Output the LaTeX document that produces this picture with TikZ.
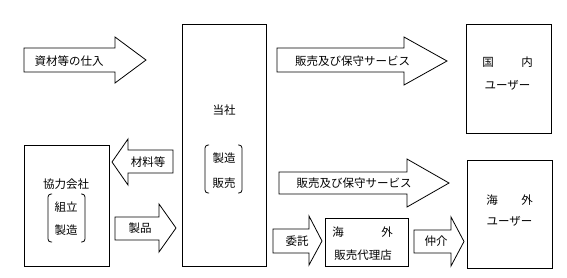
\documentclass[tikz,border=0pt]{standalone}
\usepackage{fontspec}
\newfontfamily\jp{Noto Sans CJK JP}
\tikzset{
  box/.style={draw, line width=0.8pt},
  barrow/.style={draw, line width=0.8pt, fill=white, line join=miter},
  lbl/.style={font=\jp\fontsize{11.5}{13}\selectfont, inner sep=0pt},
  brk/.style={draw, line width=0.8pt, rounded corners=3pt}
}
% right-pointing block arrow: x0, body top, body bottom, head x, head top, head bottom, tip x, tip y
\newcommand\rblock[8]{\draw[barrow] (#1,#2) -- (#4,#2) -- (#4,#5) -- (#7,#8) -- (#4,#6) -- (#4,#3) -- (#1,#3) -- cycle;}
% left-pointing block arrow: x0 (right end), body top, body bottom, head x, head top, head bottom, tip x, tip y
\newcommand\lblock[8]{\draw[barrow] (#1,#2) -- (#4,#2) -- (#4,#5) -- (#7,#8) -- (#4,#6) -- (#4,#3) -- (#1,#3) -- cycle;}
\begin{document}
\begin{tikzpicture}[x=1pt,y=-1pt]
\useasboundingbox (0,0) rectangle (567,277);
% boxes
\draw[box] (182,24) rectangle (266,266);
\draw[box] (466,24) rectangle (551,133);
\draw[box] (24,145) rectangle (109,266);
\draw[box] (467,160) rectangle (552,268);
\draw[box] (325,218) rectangle (408,266);
% block arrows
\rblock{24}{48}{72}{115}{37}{83}{146}{60}
\rblock{277}{48}{72}{404}{37}{85}{447}{61}
\lblock{173}{150}{173}{128}{139}{185}{112}{162}
\rblock{115}{217}{240}{159}{204}{252}{176}{228}
\rblock{279}{172}{194}{407}{159}{207}{449}{183}
\rblock{273}{229}{253}{309}{216}{265}{322}{241}
\rblock{414}{230}{253}{451}{217}{266}{464}{241.5}
% arrow labels
\node[lbl] (shizai) at (69,61) {資材等の仕入};
\node[lbl] (hanbai1) at (352.5,61) {販売及び保守サービス};
\node[lbl] (zairyo) at (148,162) {材料等};
\node[lbl] (seihin) at (140,228) {製品};
\node[lbl] (hanbai2) at (354,183) {販売及び保守サービス};
\node[lbl] (itaku) at (297,241) {委託};
\node[lbl] (chukai) at (436,241.5) {仲介};
% box texts
\node[lbl] (toshaname) at (224,110) {当社};
\node[lbl] (toshaA) at (224,158) {製造};
\node[lbl] (toshaB) at (224,183) {販売};
\draw[brk] (209,145) -- (205,145) -- (205,193) -- (209,193);
\draw[brk] (238,145) -- (242,145) -- (242,193) -- (238,193);
\node[lbl] (kyoryoku) at (66,184) {協力会社};
\node[lbl] (kyoA) at (66,207) {組立};
\node[lbl] (kyoB) at (66,230) {製造};
\draw[brk] (52,194) -- (48,194) -- (48,242) -- (52,242);
\draw[brk] (81,194) -- (85,194) -- (85,242) -- (81,242);
\node[lbl] (kokunai) at (507.5,62) {国\hspace{27.5pt}内};
\node[lbl] (user1) at (507.5,85) {ユーザー};
\node[lbl] (kaigai) at (509.5,200) {海\hspace{23.5pt}外};
\node[lbl] (user2) at (509.5,221) {ユーザー};
\node[lbl] (dairiA) at (362.5,232) {海\hspace{37.5pt}外};
\node[lbl] (dairiB) at (363,255) {販売代理店};
\end{tikzpicture}
\end{document}
